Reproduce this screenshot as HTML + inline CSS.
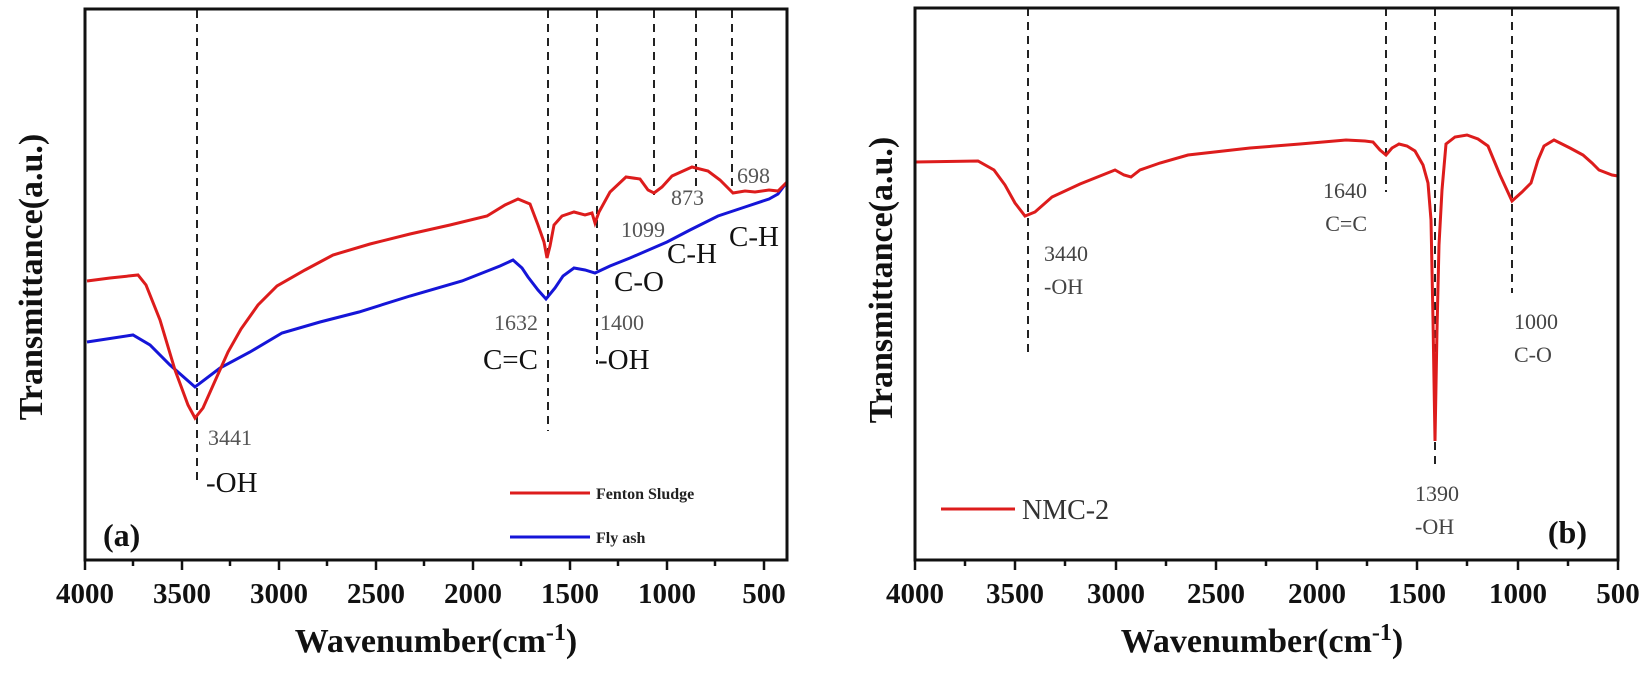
<!DOCTYPE html>
<html><head><meta charset="utf-8"><style>
html,body{margin:0;padding:0;background:#fff}
svg{display:block}
.tk{font:bold 29px "Liberation Serif",serif;fill:#111}
.ttl{font:bold 34px "Liberation Serif",serif;fill:#111}
.num{font:22px "Liberation Serif",serif;fill:#555}
.lab{font:29px "Liberation Serif",serif;fill:#111}
.lab2{font:22px "Liberation Serif",serif;fill:#444}
</style></head><body>
<svg width="1651" height="678" viewBox="0 0 1651 678" xmlns="http://www.w3.org/2000/svg">
<g fill="none" stroke="#222" stroke-width="2" stroke-dasharray="8,6">
<line x1="197" y1="10" x2="197" y2="480"/>
<line x1="548" y1="10" x2="548" y2="431"/>
<line x1="597" y1="10" x2="597" y2="364"/>
<line x1="654" y1="10" x2="654" y2="195"/>
<line x1="696" y1="10" x2="696" y2="190"/>
<line x1="732" y1="10" x2="732" y2="190"/>
<line x1="1028" y1="8" x2="1028" y2="356"/>
<line x1="1386" y1="8" x2="1386" y2="192"/>
<line x1="1435" y1="8" x2="1435" y2="469"/>
<line x1="1512" y1="8" x2="1512" y2="293"/>
</g>
<polyline fill="none" stroke="#1515d8" stroke-width="3" points="87,342 133,335 150,345 170,365 195,387 220,368 250,352 282,333 320,322 359,312 410,296 462,281 500,266 513,260 522,268 528,277 538,290 546,299 555,288 563,276 574,268 585,270 595,273 610,266 630,258 667,242 690,230 718,216 745,207 769,199 778,194 787,182"/>
<polyline fill="none" stroke="#dd1c1c" stroke-width="3" points="87,281 110,278 138,275 146,285 160,320 175,370 188,405 195,418 203,408 215,381 228,352 241,329 258,305 277,286 305,270 333,255 370,244 410,234 450,225 487,216 505,205 518,199 530,204 538,225 544,242 547,258 550,246 554,225 562,216 574,212 585,215 592,213 595,223 599,212 610,192 626,177 640,179 648,190 654,193 662,187 672,176 692,167 708,171 720,180 733,193 745,191 755,192 769,190 778,191 787,182"/>
<polyline fill="none" stroke="#dd1c1c" stroke-width="3" points="915,162 978,161 994,170 1005,185 1015,203 1025,216 1035,212 1052,197 1080,184 1115,170 1124,175 1131,177 1140,170 1160,163 1188,155 1250,148 1300,144 1346,140 1365,141 1373,142 1380,150 1386,155 1392,148 1399,144 1407,146 1415,151 1423,165 1428,183 1431,220 1433,320 1435,441 1437,330 1439,245 1442,190 1446,144 1455,137 1467,135 1478,139 1488,146 1500,175 1512,201 1522,192 1531,183 1538,160 1544,146 1554,140 1570,148 1583,155 1592,163 1599,170 1612,175 1618,176"/>
<g fill="none" stroke="#111" stroke-width="3">
<rect x="85" y="9" width="702" height="551"/>
<rect x="915" y="8" width="703" height="552"/>
</g>
<g stroke="#111" stroke-width="2.5">
<line x1="85" y1="560" x2="85" y2="570"/><line x1="182" y1="560" x2="182" y2="570"/><line x1="279" y1="560" x2="279" y2="570"/><line x1="376" y1="560" x2="376" y2="570"/><line x1="473" y1="560" x2="473" y2="570"/><line x1="570" y1="560" x2="570" y2="570"/><line x1="667" y1="560" x2="667" y2="570"/><line x1="764" y1="560" x2="764" y2="570"/>
<line x1="133" y1="560" x2="133" y2="566"/><line x1="230" y1="560" x2="230" y2="566"/><line x1="327" y1="560" x2="327" y2="566"/><line x1="424" y1="560" x2="424" y2="566"/><line x1="521" y1="560" x2="521" y2="566"/><line x1="618" y1="560" x2="618" y2="566"/><line x1="715" y1="560" x2="715" y2="566"/>
<line x1="915" y1="560" x2="915" y2="570"/><line x1="1015" y1="560" x2="1015" y2="570"/><line x1="1116" y1="560" x2="1116" y2="570"/><line x1="1216" y1="560" x2="1216" y2="570"/><line x1="1317" y1="560" x2="1317" y2="570"/><line x1="1417" y1="560" x2="1417" y2="570"/><line x1="1518" y1="560" x2="1518" y2="570"/><line x1="1618" y1="560" x2="1618" y2="570"/>
<line x1="965" y1="560" x2="965" y2="566"/><line x1="1065" y1="560" x2="1065" y2="566"/><line x1="1166" y1="560" x2="1166" y2="566"/><line x1="1266" y1="560" x2="1266" y2="566"/><line x1="1367" y1="560" x2="1367" y2="566"/><line x1="1467" y1="560" x2="1467" y2="566"/><line x1="1568" y1="560" x2="1568" y2="566"/>
</g>
<g class="tk" text-anchor="middle">
<text x="85" y="603">4000</text><text x="182" y="603">3500</text><text x="279" y="603">3000</text><text x="376" y="603">2500</text><text x="473" y="603">2000</text><text x="570" y="603">1500</text><text x="667" y="603">1000</text><text x="764" y="603">500</text>
<text x="915" y="603">4000</text><text x="1015" y="603">3500</text><text x="1116" y="603">3000</text><text x="1216" y="603">2500</text><text x="1317" y="603">2000</text><text x="1417" y="603">1500</text><text x="1518" y="603">1000</text><text x="1618" y="603">500</text>
</g>
<text class="ttl" x="436" y="652" text-anchor="middle">Wavenumber(cm<tspan dy="-12" font-size="24">-1</tspan><tspan dy="12">)</tspan></text>
<text class="ttl" x="1262" y="652" text-anchor="middle">Wavenumber(cm<tspan dy="-12" font-size="24">-1</tspan><tspan dy="12">)</tspan></text>
<text class="ttl" transform="translate(42,277) rotate(-90)" text-anchor="middle">Transmittance(a.u.)</text>
<text class="ttl" transform="translate(892,280) rotate(-90)" text-anchor="middle">Transmittance(a.u.)</text>
<text class="num" x="208" y="445">3441</text>
<text class="lab" x="206" y="492">-OH</text>
<text class="num" x="538" y="330" text-anchor="end">1632</text>
<text class="lab" x="538" y="369" text-anchor="end">C=C</text>
<text class="num" x="600" y="330">1400</text>
<text class="lab" x="598" y="369">-OH</text>
<text class="lab" x="614" y="291">C-O</text>
<text class="num" x="621" y="237">1099</text>
<text class="lab" x="667" y="263">C-H</text>
<text class="num" x="671" y="205">873</text>
<text class="lab" x="729" y="246">C-H</text>
<text class="num" x="737" y="183">698</text>
<text x="103" y="546" style="font:bold 32px 'Liberation Serif',serif;fill:#111">(a)</text>
<line x1="510" y1="493" x2="590" y2="493" stroke="#dd1c1c" stroke-width="3"/>
<text x="596" y="499" style="font:bold 16px 'Liberation Serif',serif;fill:#222">Fenton Sludge</text>
<line x1="510" y1="537" x2="590" y2="537" stroke="#1515d8" stroke-width="3"/>
<text x="596" y="543" style="font:bold 16px 'Liberation Serif',serif;fill:#222">Fly ash</text>
<text class="lab2" x="1044" y="261">3440</text>
<text class="lab2" x="1044" y="294">-OH</text>
<text class="lab2" x="1367" y="198" text-anchor="end">1640</text>
<text class="lab2" x="1367" y="231" text-anchor="end">C=C</text>
<text class="lab2" x="1415" y="501">1390</text>
<text class="lab2" x="1415" y="534">-OH</text>
<text class="lab2" x="1514" y="329">1000</text>
<text class="lab2" x="1514" y="362">C-O</text>
<line x1="941" y1="509" x2="1015" y2="509" stroke="#dd1c1c" stroke-width="3"/>
<text x="1022" y="519" style="font:28px 'Liberation Serif',serif;fill:#333">NMC-2</text>
<text x="1587" y="543" text-anchor="end" style="font:bold 32px 'Liberation Serif',serif;fill:#111">(b)</text>
</svg>
</body></html>
